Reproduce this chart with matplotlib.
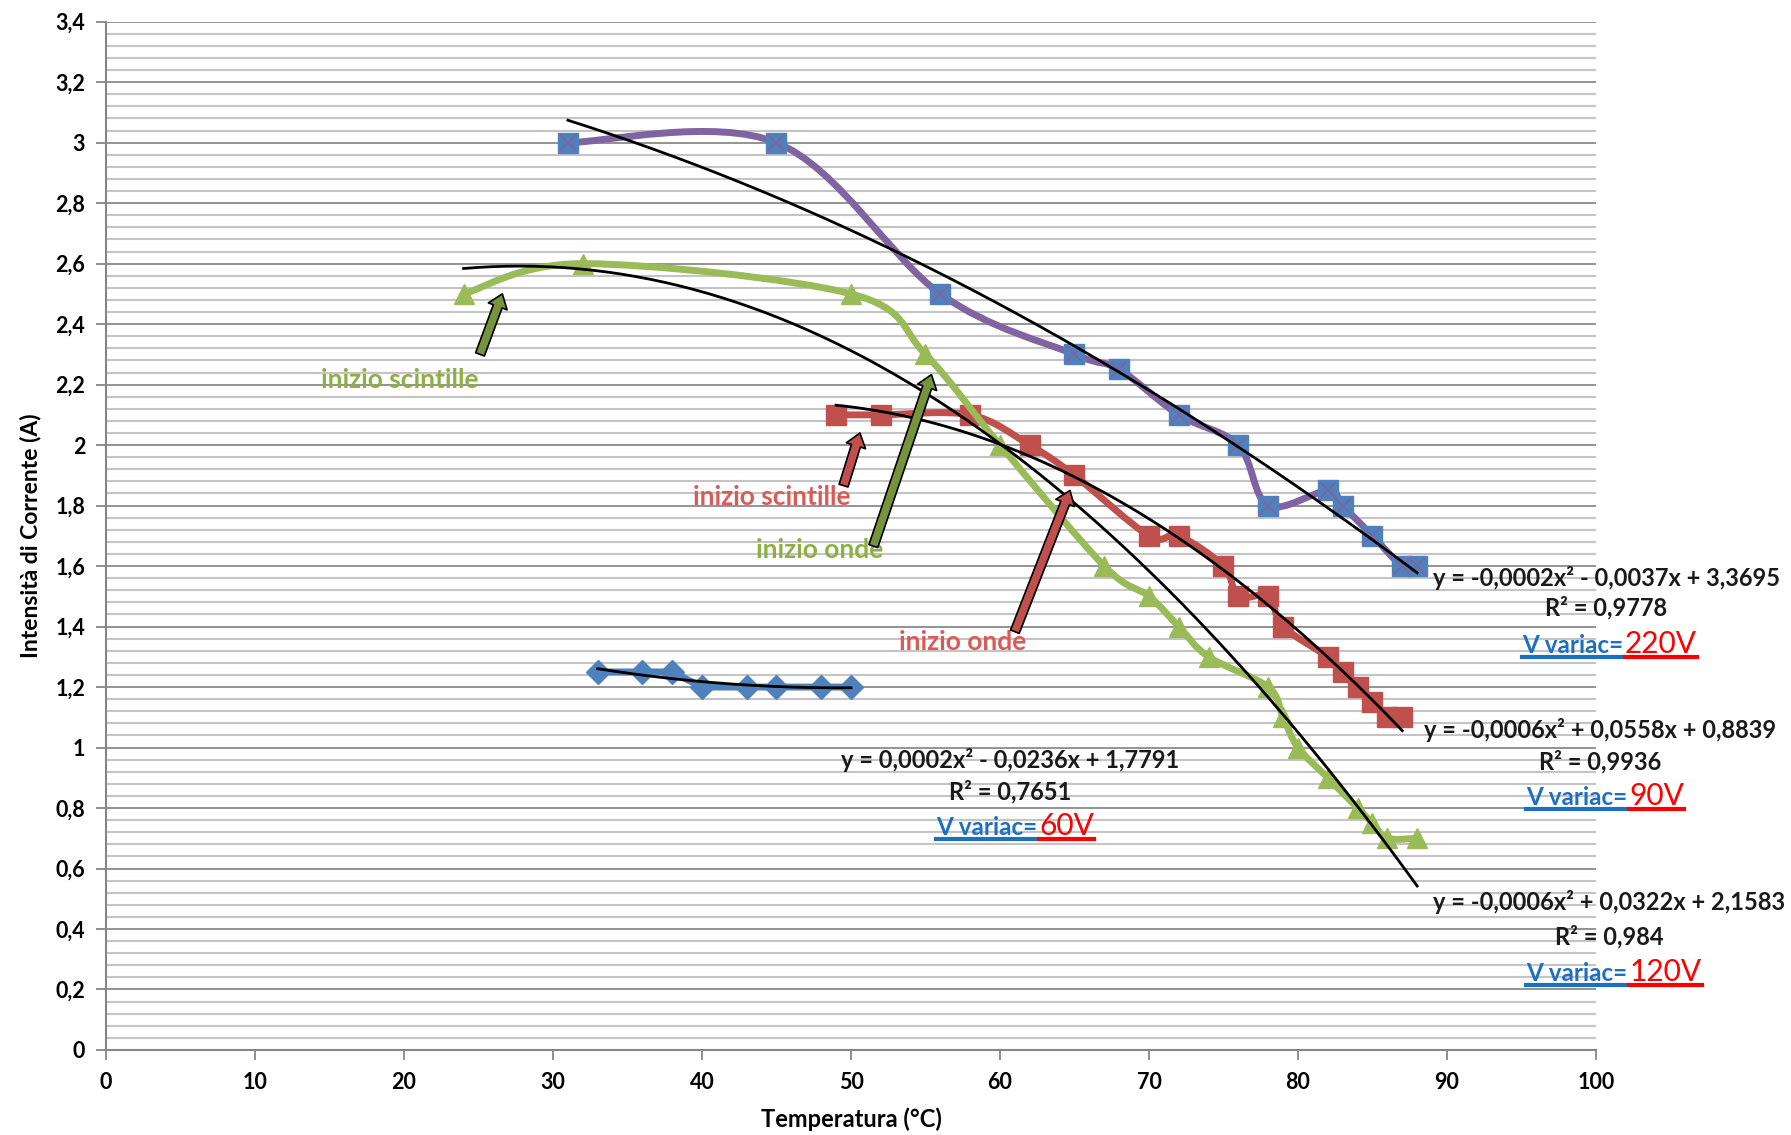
import numpy as np
import matplotlib
matplotlib.use('Agg')
import matplotlib.pyplot as plt
from matplotlib.path import Path
from matplotlib.patches import PathPatch
from matplotlib.lines import Line2D
from matplotlib.ticker import MultipleLocator

plt.rcParams['font.family'] = ['Lato', 'DejaVu Sans']

# data (temperature in C, current in A)
t60 = [33, 36, 38, 40, 43, 45, 48, 50]
i60 = [1.25, 1.25, 1.25, 1.2, 1.2, 1.2, 1.2, 1.2]

t90 = [49, 52, 58, 62, 65, 70, 72, 75, 76, 78, 79, 82, 83, 84, 85, 86, 87]
i90 = [2.1, 2.1, 2.1, 2.0, 1.9, 1.7, 1.7, 1.6, 1.5, 1.5, 1.4, 1.3, 1.25, 1.2, 1.15, 1.1, 1.1]

t120 = [24, 32, 50, 55, 60, 67, 70, 72, 74, 78, 79, 80, 82, 84, 85, 86, 88]
i120 = [2.5, 2.6, 2.5, 2.3, 2.0, 1.6, 1.5, 1.4, 1.3, 1.2, 1.1, 1.0, 0.9, 0.8, 0.75, 0.7, 0.7]

t220 = [31, 45, 56, 65, 68, 72, 76, 78, 82, 83, 85, 87, 88]
i220 = [3.0, 3.0, 2.5, 2.3, 2.25, 2.1, 2.0, 1.8, 1.85, 1.8, 1.7, 1.6, 1.6]

eq_220 = ['y = -0,0002x² - 0,0037x + 3,3695', 'R² = 0,9778', '220V']
eq_90 = ['y = -0,0006x² + 0,0558x + 0,8839', 'R² = 0,9936', '90V']
eq_120 = ['y = -0,0006x² + 0,0322x + 2,1583', 'R² = 0,984', '120V']
eq_60 = ['y = 0,0002x² - 0,0236x + 1,7791', 'R² = 0,7651', '60V']

BLUE = '#4F81BD'
RED = '#C0504D'
GREEN = '#9BBB59'
PURPLE = '#8064A2'


def smooth_path(xs, ys):
    # excel-like smoothed line: bezier segments through the points
    p = np.column_stack([xs, ys]).astype(float)
    n = len(p)
    verts = [p[0]]
    codes = [Path.MOVETO]
    for k in range(n - 1):
        p0 = p[k - 1] if k > 0 else p[k]
        p1, p2 = p[k], p[k + 1]
        p3 = p[k + 2] if k + 2 < n else p[k + 1]
        verts += [p1 + (p2 - p0) / 6.0, p2 - (p3 - p1) / 6.0, p2]
        codes += [Path.CURVE4] * 3
    return Path(verts, codes)


fig = plt.figure(figsize=(17.91, 11.35), dpi=100)
ax = fig.add_axes([0.0592, 0.0749, 0.8319, 0.906])

ax.set_xlim(0, 100)
ax.set_ylim(0, 3.4)
ax.xaxis.set_major_locator(MultipleLocator(10))
ax.yaxis.set_major_locator(MultipleLocator(0.2))
ax.yaxis.set_minor_locator(MultipleLocator(0.04))
ax.grid(axis='y', which='major', color='#8a8a8a', lw=1.3, zorder=0)
ax.grid(axis='y', which='minor', color='#c4c4c4', lw=1.5, zorder=0)
ax.set_axisbelow(True)
ax.tick_params(axis='y', which='minor', length=0)
ax.tick_params(which='major', length=7, width=1.3, color='#868686', direction='out')
for s in ['top', 'right']:
    ax.spines[s].set_visible(False)
for s in ['left', 'bottom']:
    ax.spines[s].set_color('#868686')
    ax.spines[s].set_linewidth(1.5)

ax.set_xticks(np.arange(0, 101, 10))
ax.set_xticklabels([str(v) for v in range(0, 101, 10)], fontsize=15.5, fontweight='bold')
yt = np.round(np.arange(0, 3.41, 0.2), 1)
ax.set_yticks(yt)
ax.set_yticklabels([('%g' % v).replace('.', ',') for v in yt], fontsize=15.5, fontweight='bold')
ax.tick_params(axis='x', pad=9)
ax.tick_params(axis='y', pad=8)

ax.set_xlabel('Temperatura (°C)', fontsize=17, fontweight='bold', labelpad=10)
ax.set_ylabel('Intensità di Corrente (A)', fontsize=16.5, fontweight='bold', labelpad=10)

# series
ax.plot(t60, i60, color=BLUE, lw=5, marker='D', ms=12, mfc=BLUE, mec=BLUE, zorder=3)

ax.add_patch(PathPatch(smooth_path(t90, i90), fill=False, ec=RED, lw=5, zorder=3))
ax.plot(t90, i90, ls='none', marker='s', ms=14, mfc=RED, mec=RED, zorder=3)

ax.add_patch(PathPatch(smooth_path(t120, i120), fill=False, ec=GREEN, lw=5, zorder=4))
ax.plot(t120, i120, ls='none', marker='^', ms=14, mfc=GREEN, mec=GREEN, zorder=4)

ax.add_patch(PathPatch(smooth_path(t220, i220), fill=False, ec=PURPLE, lw=5, zorder=5))
ax.plot(t220, i220, ls='none', marker='s', ms=14, mfc=BLUE, mec=BLUE, zorder=5)
ax.plot(t220, i220, ls='none', marker='x', ms=11, mew=1.2, mec=PURPLE, zorder=5)

# polynomial trendlines (order 2)
for tx, iy in [(t60, i60), (t90, i90), (t120, i120), (t220, i220)]:
    c = np.polyfit(tx, iy, 2)
    xx = np.linspace(min(tx), max(tx), 200)
    ax.plot(xx, np.polyval(c, xx), color='black', lw=2, zorder=6)

# arrows with notes
def note(text, txy, tail, head, tcolor, acolor):
    ax.text(txy[0], txy[1], text, color=tcolor, fontsize=19, fontweight='bold',
            ha='center', va='center', zorder=7)
    ax.annotate('', xy=head, xytext=tail,
                arrowprops=dict(arrowstyle='simple,head_length=0.6,head_width=0.9,tail_width=0.42',
                                fc=acolor, ec='black', lw=1.2, mutation_scale=16,
                                shrinkA=0, shrinkB=0), zorder=7)

note('inizio scintille', (19.7, 2.215), (25.1, 2.30), (26.6, 2.50), '#8DB046', '#77933C')
note('inizio onde', (47.9, 1.652), (51.5, 1.666), (55.4, 2.233), '#8DB046', '#77933C')
note('inizio scintille', (44.7, 1.83), (49.5, 1.866), (50.6, 2.04), '#D95B58', RED)
note('inizio onde', (57.5, 1.35), (61.0, 1.383), (64.7, 1.85), '#D95B58', RED)

# equation blocks
blocks = [
    (eq_220, 100.7, 1.561, 1.462, 101.8, 1.339),
    (eq_90, 100.3, 1.058, 0.952, 102.1, 0.837),
    (eq_120, 100.9, 0.489, 0.374, 102.1, 0.255),
    (eq_60, 60.7, 0.959, 0.853, 62.5, 0.737),
]
pairs = []
for eq, xc, ye, yr, xs, yv in blocks:
    ax.text(xc, ye, eq[0], fontsize=17, fontweight='bold', ha='center', va='center',
            color='#1a1a1a', clip_on=False, zorder=7)
    ax.text(xc, yr, eq[1], fontsize=17, fontweight='bold', ha='center', va='center',
            color='#1a1a1a', clip_on=False, zorder=7)
    a = ax.text(xs, yv - 0.027, 'V variac=', fontsize=17.5, fontweight='bold', ha='right',
                va='baseline', color='#1F6FBF', clip_on=False, zorder=7)
    b = ax.text(xs + 0.15, yv - 0.027, eq[2], fontsize=21.5, ha='left', va='baseline',
                color='#FF0000', clip_on=False, zorder=7)
    pairs.append((a, b))

# underline the variac labels
fig.canvas.draw()
r = fig.canvas.get_renderer()
inv = fig.transFigure.inverted()
for a, b in pairs:
    ba = a.get_window_extent(r)
    bb = b.get_window_extent(r)
    yline = min(ba.y0, bb.y0) + 1
    for bx, col in [(ba, '#1F6FBF'), (bb, '#FF0000')]:
        p0 = inv.transform((bx.x0, yline))
        p1 = inv.transform((bx.x1, yline))
        fig.add_artist(Line2D([p0[0], p1[0]], [p0[1], p1[1]], color=col, lw=3))

fig.savefig('out.png', dpi=100)
